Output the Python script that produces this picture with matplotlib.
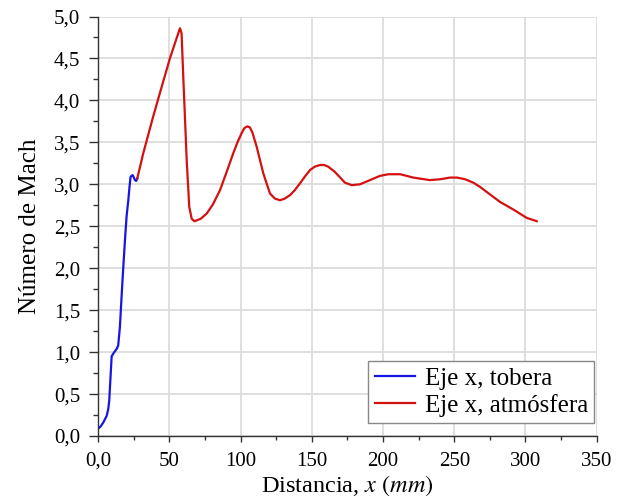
import matplotlib
matplotlib.use("Agg")
import matplotlib.pyplot as plt
from matplotlib.ticker import MultipleLocator, FuncFormatter

plt.rcParams['font.family'] = ['Liberation Serif', 'DejaVu Serif']
plt.rcParams['mathtext.fontset'] = 'stix'

# nozzle axis (tobera)
x_tob = [0.0, 1.5, 3.5, 5.9, 7.0, 7.7, 8.6, 9.4, 10.5, 11.7, 13.0, 14.0, 15.2,
         16.5, 17.6, 19.0, 19.9, 21.1, 22.0, 22.7, 24.1, 25.0, 25.8, 26.6, 27.4]
m_tob = [0.09, 0.11, 0.16, 0.24, 0.32, 0.42, 0.70, 0.95, 0.98, 1.01, 1.04, 1.08, 1.30,
         1.70, 2.02, 2.40, 2.62, 2.81, 2.98, 3.09, 3.11, 3.08, 3.05, 3.04, 3.07]

# atmosphere axis (atmosfera)
x_atm = [27.4, 31.6, 38.6, 44.5, 50.3, 55.0, 57.4, 58.5, 59.7, 62.1, 63.9, 65.6,
         67.5, 69.1, 72.0, 76.1, 80.5, 85.5, 90.0, 94.8, 98.0, 100.7, 102.6, 104.6,
         106.4, 108.2, 111.2, 115.9, 120.6, 124.0, 127.6, 131.0, 134.6, 138.0, 141.6,
         145.0, 148.7, 152.0, 155.7, 158.6, 161.5, 166.0, 169.9, 173.2, 178.0, 183.8,
         190.8, 197.8, 203.7, 212.1, 221.2, 232.9, 240.0, 247.0, 252.0, 257.6, 263.3,
         268.0, 272.7, 282.1, 291.4, 300.8, 307.9]
m_atm = [3.07, 3.37, 3.81, 4.16, 4.50, 4.74, 4.86, 4.80, 4.28, 3.29, 2.73, 2.59,
         2.56, 2.57, 2.59, 2.65, 2.76, 2.93, 3.14, 3.37, 3.51, 3.61, 3.67, 3.69,
         3.68, 3.62, 3.45, 3.13, 2.89, 2.83, 2.81, 2.83, 2.87, 2.93, 3.01,
         3.09, 3.17, 3.21, 3.23, 3.23, 3.21, 3.15, 3.08, 3.02, 2.99, 3.00,
         3.05, 3.10, 3.12, 3.12, 3.08, 3.05, 3.06, 3.08, 3.08, 3.06, 3.02,
         2.97, 2.91, 2.79, 2.70, 2.60, 2.56]

fig = plt.figure(figsize=(6.18, 5.0), dpi=100)
ax = fig.add_axes([0.159, 0.128, 0.8065, 0.839])

ax.plot(x_tob, m_tob, color='#1515e6', lw=1.6, label='Eje x, tobera')
ax.plot(x_atm, m_atm, color='#d41010', lw=1.6, label='Eje x, atmósfera')

ax.set_xlim(0, 350)
ax.set_ylim(0, 5)
ax.xaxis.set_major_locator(MultipleLocator(50))
ax.xaxis.set_minor_locator(MultipleLocator(25))
ax.yaxis.set_major_locator(MultipleLocator(0.5))
ax.yaxis.set_minor_locator(MultipleLocator(0.25))
ax.xaxis.set_major_formatter(FuncFormatter(lambda v, p: '0,0' if v == 0 else f'{v:.0f}'))
ax.yaxis.set_major_formatter(FuncFormatter(lambda v, p: f'{v:.1f}'.replace('.', ',')))

ax.grid(True, which='major', color='#dcdcdc', lw=1.3)
ax.set_axisbelow(True)
for s in ['top', 'right']:
    ax.spines[s].set_visible(False)
for s in ['left', 'bottom']:
    ax.spines[s].set_color('#333333')
    ax.spines[s].set_linewidth(1.0)
ax.tick_params(which='both', colors='#333333', labelcolor='black', labelsize=15, width=1)
ax.tick_params(axis='x', which='major', direction='out', length=4, pad=7.5)
ax.tick_params(axis='x', which='minor', direction='out', length=3)
ax.tick_params(axis='y', which='major', direction='out', length=6.5, pad=6.5)
ax.tick_params(axis='y', which='minor', direction='out', length=3.5)

ax.set_xlabel(r'Distancia, $x$ $(mm)$', fontsize=17.5, labelpad=2)
ax.set_ylabel('Número de Mach', fontsize=18, labelpad=9)

leg = ax.legend(loc='lower right', bbox_to_anchor=(1.0, 0.025), fontsize=18,
                fancybox=False, framealpha=1, edgecolor='#888888',
                handlelength=1.6, borderpad=0.25, labelspacing=0.15, handletextpad=0.4,
                borderaxespad=0.1)
leg.get_frame().set_linewidth(1.0)

fig.savefig('out.png', dpi=100)
